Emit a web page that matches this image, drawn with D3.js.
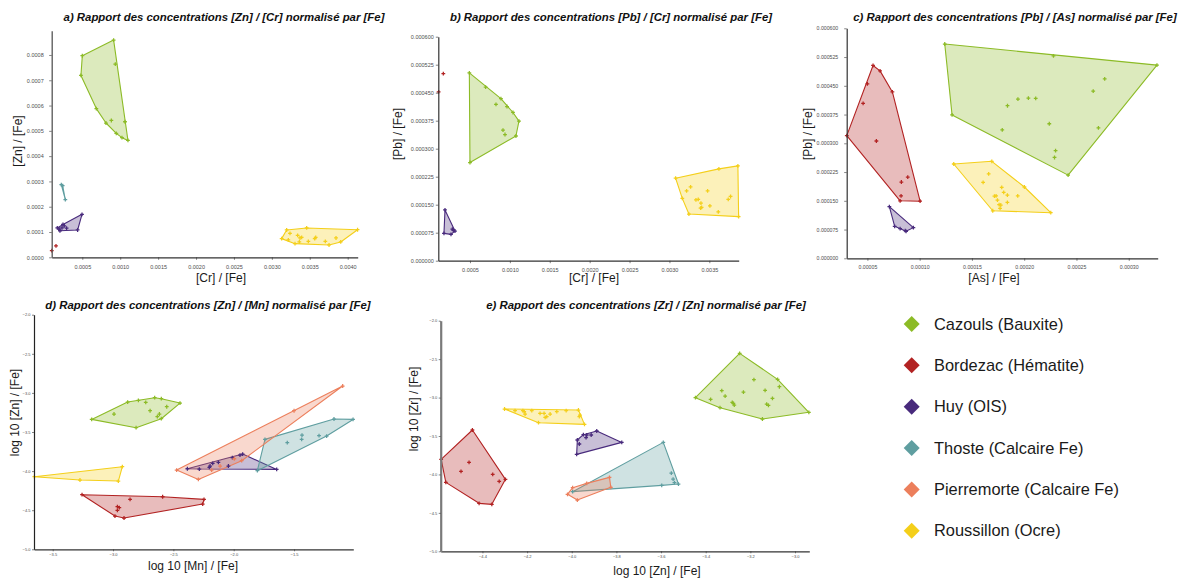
<!DOCTYPE html>
<html><head><meta charset="utf-8">
<script src="https://cdn.jsdelivr.net/npm/d3@7"></script>
<style>
body{margin:0;background:#fff;}
text{font-family:"Liberation Sans",Arial,Helvetica,sans-serif;}
</style>
</head><body>
<svg id="chart" width="1183" height="578"></svg>
<script>
// ---------- series ----------
const seriesNames = ["Cazouls (Bauxite)", "Bordezac (Hématite)", "Huy (OIS)", "Thoste (Calcaire Fe)", "Pierremorte (Calcaire Fe)", "Roussillon (Ocre)"];
const seriesColors = ["#8CBB26", "#B22222", "#482A7C", "#5F9EA0", "#EC7F5C", "#F4CF1A"];

// ---------- panel a : [Cr]/[Fe] vs [Zn]/[Fe] ----------
const a_Cazouls = [[0.0005,0.000797],[0.000913,0.000859],[0.000935,0.000764],[0.001063,0.000536],[0.001102,0.000462],[0.001023,0.000473],[0.000948,0.00049],[0.000812,0.000531],[0.000883,0.000541],[0.000685,0.000588],[0.000482,0.000719]];
const a_Bordezac = [[0.000097,0.0000264],[0.000153,0.0000448]];
const a_Huy = [[0.000496,0.00017],[0.000438,0.000108],[0.000205,0.000105],[0.00017,0.000116],[0.000245,0.00013],[0.000262,0.000124],[0.000293,0.000115],[0.000232,0.000116],[0.000197,0.000111]];
const a_Thoste = [[0.000223,0.000287],[0.000241,0.000283],[0.000276,0.000228]];
const a_Roussillon = [[0.003195,0.000108],[0.003459,0.000116],[0.004130,0.000109],[0.003908,0.0000606],[0.003754,0.0000487],[0.003305,0.000054],[0.003129,0.0000738],[0.003239,0.0000949],[0.00334,0.000087],[0.003371,0.0000764],[0.003393,0.000079],[0.003481,0.0000632],[0.003565,0.0000738],[0.003578,0.000079],[0.003362,0.0000606],[0.003705,0.0000632],[0.003846,0.0000764],[0.003217,0.0000685]];
const aXDomain = [0.0000963, 0.004132];
const aYDomain = [0, 0.000896];
const aXTicks = [0.0005,0.0010,0.0015,0.0020,0.0025,0.0030,0.0035,0.0040];
const aYTicks = [0,0.0001,0.0002,0.0003,0.0004,0.0005,0.0006,0.0007,0.0008];

// ---------- panel b : [Cr]/[Fe] vs [Pb]/[Fe] ----------
const b_Cazouls = [[0.000492,0.000503],[0.000696,0.000465],[0.000888,0.000434],[0.000826,0.000419],[0.000964,0.000413],[0.001039,0.000397],[0.001114,0.000374],[0.000914,0.00035],[0.000939,0.000338],[0.001076,0.000334],[0.0005,0.000263]];
const b_Bordezac = [[0.000166,0.000501],[0.000107,0.000452]];
const b_Huy = [[0.000187,0.000136],[0.000174,0.0000732],[0.000262,0.0000705],[0.000312,0.0000795],[0.000279,0.0000848],[0.000291,0.0000821]];
const b_Roussillon = [[0.003077,0.000221],[0.00362,0.000246],[0.003858,0.000254],[0.003867,0.000118],[0.003244,0.000125],[0.003161,0.000167],[0.003215,0.000187],[0.003265,0.000198],[0.003332,0.000163],[0.003361,0.000164],[0.003395,0.000154],[0.00339,0.000141],[0.003403,0.000143],[0.003478,0.000187],[0.003507,0.000147],[0.003612,0.000131],[0.003737,0.000164],[0.003766,0.000172]];
const bXDomain = [0.000103, 0.003868];
const bYDomain = [0, 0.0006];
const bXTicks = [0.0005,0.0010,0.0015,0.0020,0.0025,0.0030,0.0035];
const bYTicks = [0,0.000075,0.00015,0.000225,0.0003,0.000375,0.00045,0.000525,0.0006];

// ---------- panel c : [As]/[Fe] vs [Pb]/[Fe] ----------
const c_Cazouls = [[0.000124,0.000559],[0.000228,0.000528],[0.000327,0.000504],[0.000242,0.000217],[0.000131,0.000374],[0.000277,0.000468],[0.000266,0.000436],[0.000204,0.000418],[0.000211,0.000417],[0.000194,0.000415],[0.000184,0.000398],[0.000179,0.000335],[0.000224,0.000351],[0.000271,0.00034],[0.00023,0.000281],[0.000229,0.000263]];
const c_Bordezac = [[0.0000554,0.000503],[0.0000621,0.000489],[0.0000739,0.000434],[0.00005,0.000455],[0.0000459,0.000404],[0.0000303,0.00032],[0.0000586,0.000306],[0.0000886,0.000212],[0.0000825,0.000199],[0.0000822,0.000163],[0.0000813,0.00015],[0.0001004,0.000149]];
const c_Huy = [[0.000071,0.000135],[0.0000761,0.0000835],[0.0000813,0.0000774],[0.000087,0.0000704],[0.000094,0.00008],[0.0000862,0.000072]];
const c_Roussillon = [[0.0001326,0.000246],[0.000169,0.000253],[0.0002254,0.000119],[0.0001699,0.000124],[0.000166,0.00022],[0.0001607,0.000198],[0.0001785,0.000185],[0.0002002,0.000186],[0.0001804,0.000172],[0.0001839,0.000165],[0.0001938,0.000163],[0.0001731,0.000163],[0.0001715,0.000162],[0.0001744,0.000152],[0.000176,0.00014],[0.0001776,0.000139],[0.0001839,0.000146],[0.0001769,0.00013]];
const cXDomain = [0.0000302, 0.0003277];
const cYDomain = [0, 0.0006];
const cXTicks = [0.00005,0.0001,0.00015,0.0002,0.00025,0.0003];
const cYTicks = bYTicks;

// ---------- panel d : log10 [Mn]/[Fe] vs log10 [Zn]/[Fe] ----------
const d_Cazouls = [[-3.177,-3.339],[-2.879,-3.117],[-2.655,-3.061],[-2.6,-3.074],[-2.445,-3.13],[-2.6,-3.33],[-2.809,-3.445],[-2.992,-3.27],[-2.79,-3.096],[-2.729,-3.121],[-2.693,-3.228],[-2.633,-3.304],[-2.616,-3.27],[-2.555,-3.177]];
const d_Bordezac = [[-3.257,-4.302],[-2.589,-4.328],[-2.246,-4.362],[-2.257,-4.421],[-2.909,-4.6],[-2.984,-4.575],[-2.859,-4.362],[-2.964,-4.455],[-2.948,-4.468],[-2.964,-4.502]];
const d_Huy = [[-2.384,-3.97],[-1.926,-3.782],[-1.644,-3.978],[-2.285,-3.974],[-2.196,-3.935],[-2.202,-3.953],[-2.174,-3.901],[-2.127,-3.888],[-2.044,-3.935],[-2.011,-3.829],[-1.948,-3.795]];
const d_Thoste = [[-1.804,-3.995],[-1.741,-3.594],[-1.169,-3.334],[-1.011,-3.339],[-1.23,-3.552],[-1.556,-3.637],[-1.434,-3.539],[-1.437,-3.594],[-1.293,-3.547]];
const d_Pierremorte = [[-2.473,-3.987],[-1.097,-2.912],[-2.293,-4.106],[-1.934,-3.867],[-2.183,-3.987],[-2.113,-3.935],[-1.995,-3.842],[-1.5,-3.228]];
const d_Roussillon = [[-3.652,-4.072],[-2.923,-3.944],[-2.956,-4.127],[-3.274,-4.114]];
const dXDomain = [-3.655, -1.009];
const dYDomain = [-5, -2];
const dXTicks = [-3.5,-3.0,-2.5,-2.0,-1.5];
const dYTicks = [-5.0,-4.5,-4.0,-3.5,-3.0,-2.5,-2.0];

// ---------- panel e : log10 [Zn]/[Fe] vs log10 [Zr]/[Fe] ----------
const e_Cazouls = [[-3.446,-3.002],[-3.248,-2.425],[-3.078,-2.763],[-2.938,-3.192],[-3.146,-3.279],[-3.336,-3.132],[-3.378,-3.023],[-3.328,-2.911],[-3.313,-2.98],[-3.281,-3.062],[-3.276,-3.075],[-3.272,-3.097],[-3.231,-2.928],[-3.184,-2.767],[-3.134,-2.906],[-3.127,-3.084],[-3.119,-3.101],[-3.101,-3.01],[-3.07,-2.859]];
const e_Bordezac = [[-4.585,-3.804],[-4.564,-4.103],[-4.415,-4.376],[-4.358,-4.389],[-4.297,-4.064],[-4.445,-3.422],[-4.496,-3.96],[-4.46,-3.843],[-4.354,-3.999],[-4.325,-4.09]];
const e_Huy = [[-3.975,-3.552],[-3.948,-3.483],[-3.888,-3.435],[-3.776,-3.583],[-3.978,-3.739],[-3.933,-3.487],[-3.936,-3.522],[-3.913,-3.487],[-3.966,-3.604]];
const e_Thoste = [[-3.996,-4.224],[-3.59,-3.583],[-3.522,-4.125],[-3.597,-4.142],[-3.554,-3.982],[-3.546,-4.06],[-3.54,-4.107]];
const e_Pierremorte = [[-4.019,-4.259],[-3.996,-4.172],[-3.831,-4.038],[-3.825,-4.168],[-3.975,-4.333],[-3.933,-4.116]];
const e_Roussillon = [[-4.301,-3.149],[-3.97,-3.162],[-3.943,-3.349],[-4.149,-3.327],[-4.254,-3.171],[-4.219,-3.171],[-4.213,-3.184],[-4.209,-3.214],[-4.179,-3.171],[-4.142,-3.205],[-4.124,-3.205],[-4.119,-3.257],[-4.112,-3.249],[-4.097,-3.214],[-4.067,-3.184],[-4.025,-3.171],[-3.966,-3.249],[-3.963,-3.227]];
const eXDomain = [-4.587, -2.936];
const eYDomain = [-5, -2];
const eXTicks = [-4.4,-4.2,-4.0,-3.8,-3.6,-3.4,-3.2,-3.0];
const eYTicks = dYTicks;

// ---------- texts ----------
const titles = [
  "a) Rapport des concentrations [Zn] / [Cr] normalisé par [Fe]",
  "b) Rapport des concentrations [Pb] / [Cr] normalisé par [Fe]",
  "c) Rapport des concentrations [Pb] / [As] normalisé par [Fe]",
  "d) Rapport des concentrations [Zn] / [Mn] normalisé par [Fe]",
  "e) Rapport des concentrations [Zr] / [Zn] normalisé par [Fe]"];
const xLabels = ["[Cr] / [Fe]", "[Cr] / [Fe]", "[As] / [Fe]", "log 10 [Mn] / [Fe]", "log 10 [Zn] / [Fe]"];
const yLabels = ["[Zn] / [Fe]", "[Pb] / [Fe]", "[Pb] / [Fe]", "log 10 [Zn] / [Fe]", "log 10 [Zr] / [Fe]"];

// ---------- build panel table ----------
const panels = [
  {series:[a_Cazouls,a_Bordezac,a_Huy,a_Thoste,null,a_Roussillon], xd:aXDomain, yd:aYDomain, xt:aXTicks, yt:aYTicks, xf:".4f", yf:".4f",
   L:{l:51.7,r:357.7,t:30.7,b:257.3, tx:224, ty:20.7, lx:221, ly:282, yx:21.5, yy:141, tf:5.5, xpad:5, ypad:5.5, ts:2.5, yAxisCol:"#555", yAxisW:1.3}},
  {series:[b_Cazouls,b_Bordezac,b_Huy,null,null,b_Roussillon], xd:bXDomain, yd:bYDomain, xt:bXTicks, yt:bYTicks, xf:".4f", yf:".6f",
   L:{l:438.3,r:738.7,t:36.7,b:260.7, tx:611, ty:20.7, lx:594, ly:282, yx:402, yy:134, tf:5.5, xpad:4.5, ypad:2, ts:2.5, yAxisCol:"#333", yAxisW:1.2}},
  {series:[c_Cazouls,c_Bordezac,c_Huy,null,null,c_Roussillon], xd:cXDomain, yd:cYDomain, xt:cXTicks, yt:cYTicks, xf:".5f", yf:".6f",
   L:{l:846.7,r:1157.7,t:28.3,b:258.3, tx:1015, ty:20.7, lx:994, ly:282, yx:811.5, yy:134, tf:5.2, xpad:4.5, ypad:6, ts:2.5, yAxisCol:"#333", yAxisW:1.2}},
  {series:[d_Cazouls,d_Bordezac,d_Huy,d_Thoste,d_Pierremorte,d_Roussillon], xd:dXDomain, yd:dYDomain, xt:dXTicks, yt:dYTicks, xf:".1f", yf:".1f",
   L:{l:34,r:353.3,t:314.7,b:549.3, tx:208, ty:308.5, lx:193, ly:569.5, yx:18.5, yy:412.5, tf:4, xpad:1.5, ypad:1.5, ts:2, yAxisCol:"#222", yAxisW:1.2}},
  {series:[e_Cazouls,e_Bordezac,e_Huy,e_Thoste,e_Pierremorte,e_Roussillon], xd:eXDomain, yd:eYDomain, xt:eXTicks, yt:eYTicks, xf:".1f", yf:".1f",
   L:{l:440.7,r:809.3,t:320.7,b:551.3, tx:646, ty:309, lx:657, ly:575, yx:418, yy:409, tf:4, xpad:2, ypad:1.5, ts:2, yAxisCol:"#7a7a7a", yAxisW:2.2}}
];

const svg = d3.select("#chart");
svg.append("rect").attr("width",1183).attr("height",578).attr("fill","#fff");

panels.forEach((p, i) => {
  const L = p.L;
  const x = d3.scaleLinear().domain(p.xd).range([L.l, L.r]);
  const y = d3.scaleLinear().domain(p.yd).range([L.b, L.t]);
  const g = svg.append("g");

  // hulls
  p.series.forEach((pts, s) => {
    if (!pts) return;
    const proj = pts.map(d => [x(d[0]), y(d[1])]);
    const hull = d3.polygonHull(proj);
    if (hull && pts.length >= 3) {
      g.append("path")
        .attr("d", "M" + hull.join("L") + "Z")
        .attr("fill", seriesColors[s]).attr("fill-opacity", 0.3)
        .attr("stroke", seriesColors[s]).attr("stroke-width", 1.1)
        .attr("stroke-linejoin", "round");
    }
  });
  // points
  const sym = d3.symbol().type(d3.symbolCross).size(8);
  p.series.forEach((pts, s) => {
    if (!pts) return;
    g.selectAll(null).data(pts).enter().append("path")
      .attr("d", sym)
      .attr("transform", d => `translate(${x(d[0])},${y(d[1])})`)
      .attr("fill", seriesColors[s]);
  });

  // axes
  const xa = g.append("g").attr("transform", `translate(0,${L.b})`)
    .call(d3.axisBottom(x).tickValues(p.xt).tickFormat(d3.format(p.xf)).tickSize(L.ts).tickSizeOuter(0).tickPadding(L.xpad));
  const ya = g.append("g").attr("transform", `translate(${L.l},0)`)
    .call(d3.axisLeft(y).tickValues(p.yt).tickFormat(d3.format(p.yf)).tickSize(L.ts).tickSizeOuter(0).tickPadding(L.ypad));
  [xa, ya].forEach(a => {
    a.selectAll("text").attr("font-size", L.tf).attr("fill", "#4d4d4d").attr("font-family", "'Liberation Sans', Arial, sans-serif");
    a.selectAll(".tick line").attr("stroke", "#333").attr("stroke-width", 0.6);
  });
  xa.select(".domain").attr("stroke", "#333").attr("stroke-width", 1.2);
  ya.select(".domain").attr("stroke", L.yAxisCol).attr("stroke-width", L.yAxisW);

  // titles
  svg.append("text").attr("x", L.tx).attr("y", L.ty).attr("text-anchor", "middle")
    .attr("font-size", 11.4).attr("font-weight", "bold").attr("font-style", "italic").attr("fill", "#111")
    .text(titles[i]);
  svg.append("text").attr("x", L.lx).attr("y", L.ly).attr("text-anchor", "middle")
    .attr("font-size", 12).attr("fill", "#1a1a1a").text(xLabels[i]);
  svg.append("text").attr("transform", `translate(${L.yx},${L.yy}) rotate(-90)`).attr("text-anchor", "middle")
    .attr("font-size", 12).attr("fill", "#1a1a1a").text(yLabels[i]);
});

// legend
const lg = svg.append("g");
seriesNames.forEach((name, i) => {
  const cy = 324 + i * 41.35;
  lg.append("path").attr("d", d3.symbol().type(d3.symbolSquare).size(128)())
    .attr("transform", `translate(911.7,${cy}) rotate(45)`).attr("fill", seriesColors[i]);
  lg.append("text").attr("x", 934).attr("y", cy).attr("dy", "0.35em")
    .attr("font-size", 16.4).attr("fill", "#1a1a1a").text(name);
});
</script>
</body></html>
